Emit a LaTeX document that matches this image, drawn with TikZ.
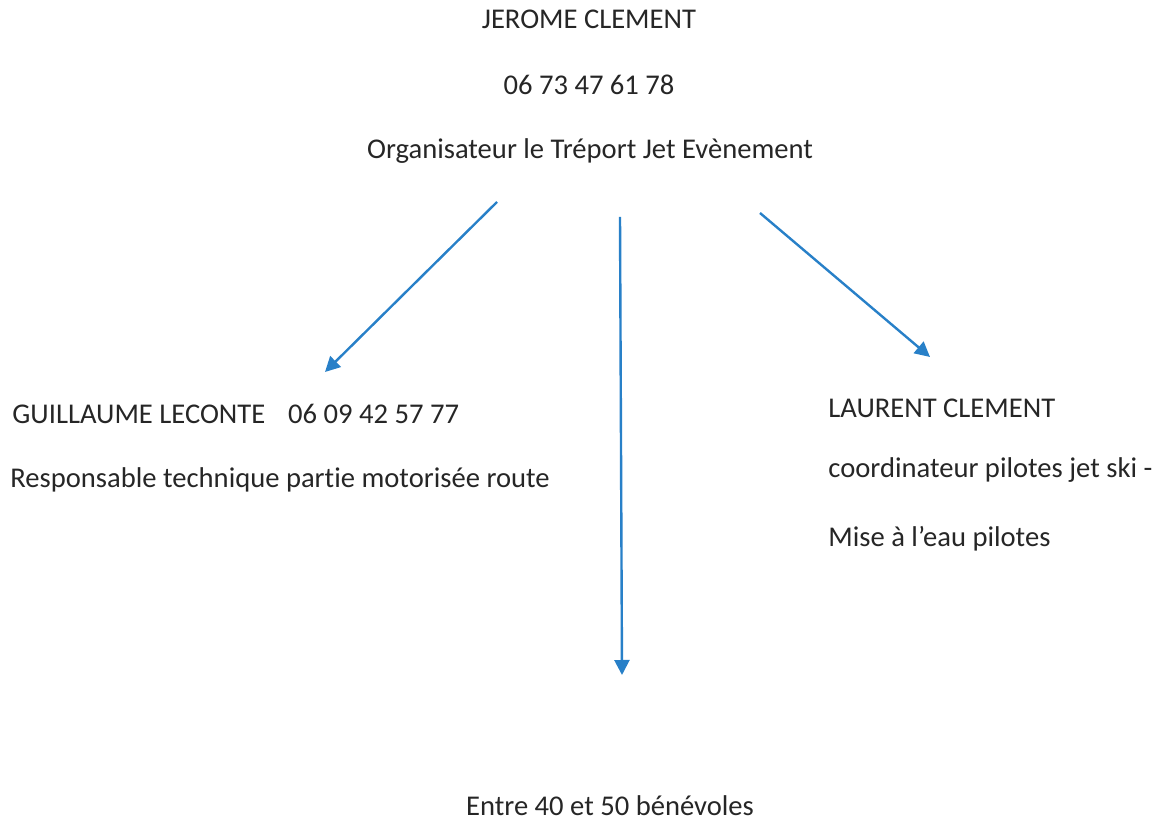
\documentclass[tikz,border=0pt]{standalone}
\usepackage{fontspec}
\setmainfont{Carlito}[Ligatures=NoCommon]
\usetikzlibrary{arrows.meta}
\definecolor{arrowblue}{RGB}{40,128,200}
\begin{document}
\begin{tikzpicture}[x=0.5pt,y=-0.5pt,
  txt/.style={inner sep=0pt,font=\fontsize{14.3}{16}\selectfont,text=black!85},
  link/.style={draw=arrowblue,line width=1.2pt,-{Triangle[length=7.5pt,width=7.5pt]}}]
\useasboundingbox (0,0) rectangle (1156,822);
\node[txt,anchor=base] (name) at (589,29) {JEROME CLEMENT};
\node[txt,anchor=base] (phone) at (589,95) {06 73 47 61 78};
\node[txt,anchor=base] (org) at (590,159) {Organisateur le Tréport Jet Evènement};
\node[txt,anchor=base west] (g1) at (12,424) {GUILLAUME LECONTE\hspace{0.8em}06 09 42 57 77};
\node[txt,anchor=base west] (g2) at (10,488) {Responsable technique partie motorisée route};
\node[txt,anchor=base west] (l1) at (828,418) {LAURENT CLEMENT};
\node[txt,anchor=base west] (l2) at (828,478) {coordinateur pilotes jet ski -};
\node[txt,anchor=base west] (l3) at (828,547) {Mise à l’eau pilotes};
\node[txt,anchor=base] (ben) at (610,815) {Entre 40 et 50 bénévoles};
\coordinate (s1) at (497,202);
\coordinate (e1) at (325,372);
\coordinate (s2) at (620,217);
\coordinate (e2) at (622,675);
\coordinate (s3) at (760,213);
\coordinate (e3) at (930,357);
\draw[link] (s1) -- (e1);
\draw[link] (s2) -- (e2);
\draw[link] (s3) -- (e3);
\end{tikzpicture}
\end{document}
